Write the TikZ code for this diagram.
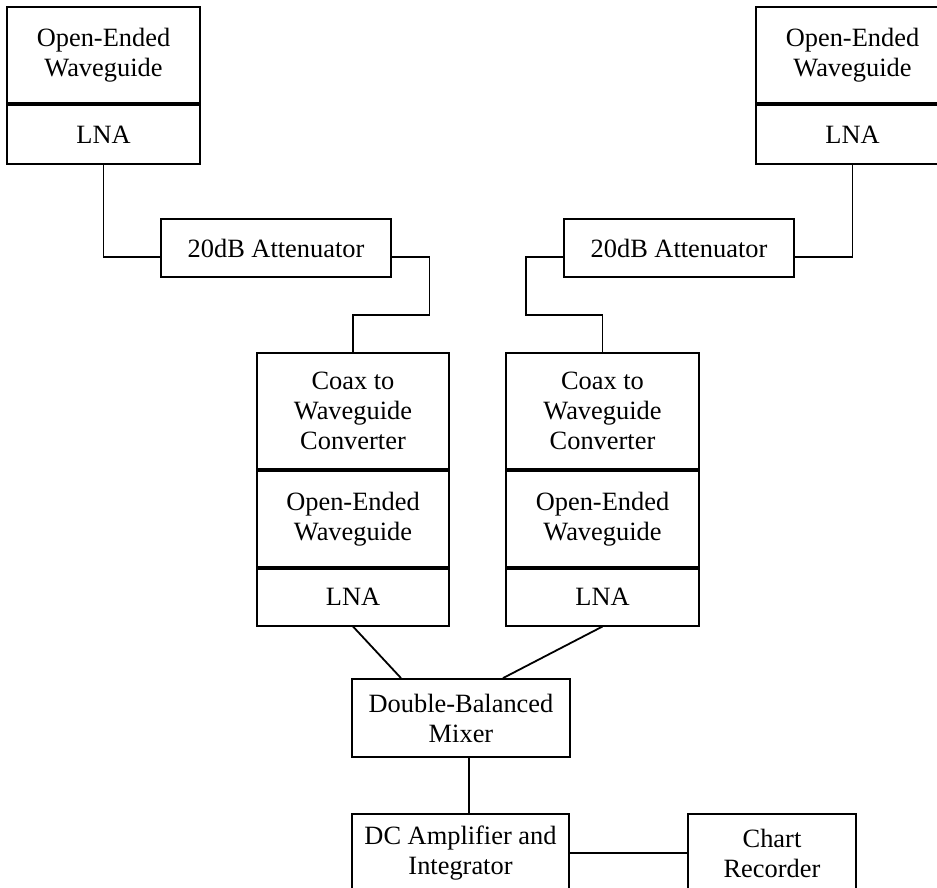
\documentclass[tikz,border=0pt]{standalone}
\usepackage{fontspec}
\setmainfont{Liberation Serif}
\usetikzlibrary{positioning}

\begin{document}
\begin{tikzpicture}[
    x=0.5pt,
    y=-0.5pt,
    line width=0.9pt,
    every node/.style={font=\fontsize{13.2}{15}\selectfont},
    box/.style={
        rectangle,
        draw=black,
        align=center,
        inner sep=0pt
    },
    guide/.style={box, minimum width=96.5pt, minimum height=48pt},
    amp/.style={box, minimum width=96.5pt, minimum height=29.5pt},
    atten/.style={box, minimum width=115pt, minimum height=29pt},
    wire/.style={draw=black}
]

\clip (0,0) rectangle (937,888);

% upper antennas
\node[guide] (owgA) at (103.5,55) {Open-Ended\\ Waveguide};
\node[amp, below=0pt of owgA] (lnaA) {LNA};
\node[guide] (owgB) at (852.5,55) {Open-Ended\\ Waveguide};
\node[amp, below=0pt of owgB] (lnaB) {LNA};

\node[atten] (attA) at (276,248) {20dB Attenuator};
\node[atten] (attB) at (679,248) {20dB Attenuator};

% converter stacks
\node[box, minimum width=96pt, minimum height=58pt] (convA) at (353,411) {Coax to\\ Waveguide\\ Converter};
\node[guide, minimum width=96pt, below=0pt of convA] (owgC) {Open-Ended\\ Waveguide};
\node[amp, minimum width=96pt, minimum height=28.5pt, below=0pt of owgC] (lnaC) {LNA};
\node[box, minimum width=96.5pt, minimum height=58pt] (convB) at (602.5,411) {Coax to\\ Waveguide\\ Converter};
\node[guide, below=0pt of convB] (owgD) {Open-Ended\\ Waveguide};
\node[amp, minimum height=28.5pt, below=0pt of owgD] (lnaD) {LNA};

\node[box, minimum width=109pt, minimum height=39pt] (mixer) at (461,718) {Double-Balanced\\ Mixer};
\node[box, minimum width=108.5pt, minimum height=39pt] (dcamp) at (460.5,853) {DC Amplifier and\\ Integrator};
\node[box, minimum width=84pt, minimum height=39pt] (chart) at (772,853) {Chart\\ Recorder};

\coordinate (bendA) at (429.5,315);
\coordinate (bendB) at (526,315);

\draw[wire] (lnaA.south) |- ([yshift=-4.5pt]attA.west);
\draw[wire] (lnaB.south) |- ([yshift=-4.5pt]attB.east);
\draw[wire] ([yshift=-4.5pt]attA.east) -| (bendA) -| (convA.north);
\draw[wire] ([yshift=-4.5pt]attB.west) -| (bendB) -| (convB.north);
\draw[wire] (lnaC.south) -- ([xshift=-30pt]mixer.north);
\draw[wire] (lnaD.south) -- ([xshift=21pt]mixer.north);
\draw[wire] ([xshift=4pt]mixer.south) -- ([xshift=4.25pt]dcamp.north);
\draw[wire] (dcamp) -- (chart);

\end{tikzpicture}
\end{document}
